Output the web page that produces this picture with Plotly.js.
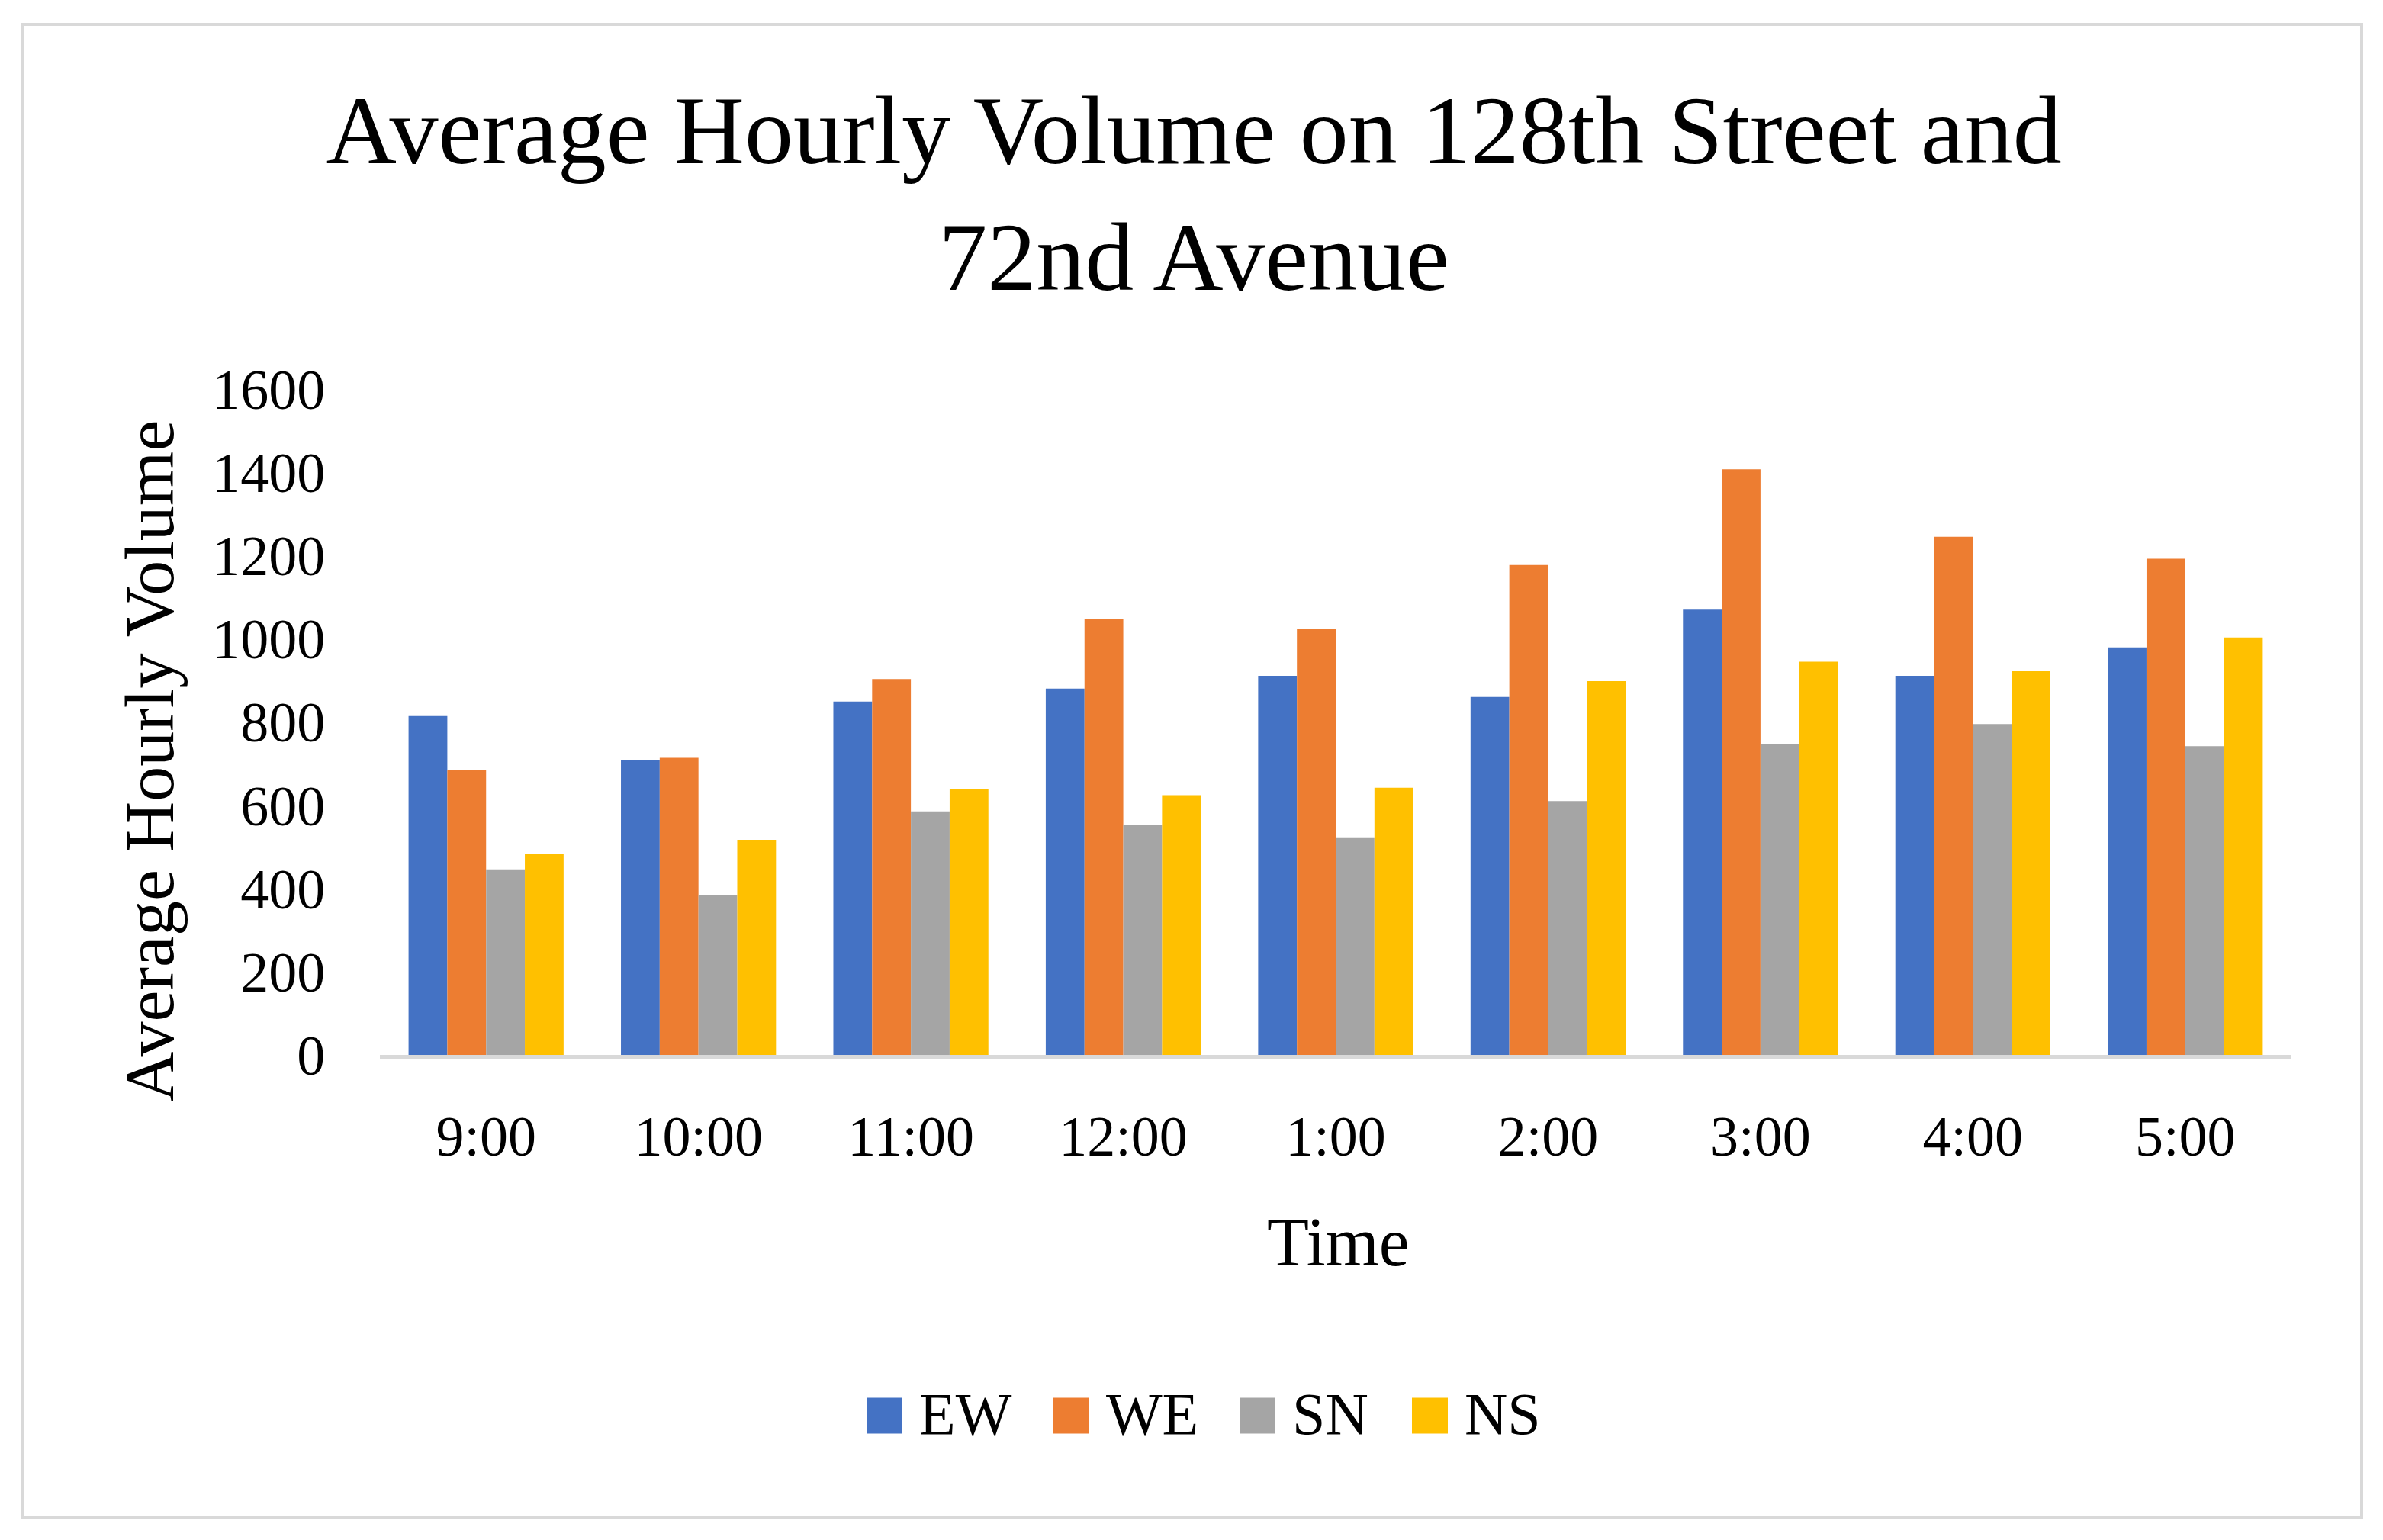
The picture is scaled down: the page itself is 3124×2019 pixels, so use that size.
<!DOCTYPE html>
<html>
<head>
<meta charset="utf-8">
<script src="https://cdn.plot.ly/plotly-3.0.1.min.js"></script>
<style>
  html, body { margin: 0; padding: 0; background: #ffffff; }
  #chart { width: 3124px; height: 2019px; }
</style>
</head>
<body>
<div id="chart"></div>
<script>
// ---- Data ----
const categories = ['9:00', '10:00', '11:00', '12:00', '1:00', '2:00', '3:00', '4:00', '5:00'];
const seriesNames = ['EW', 'WE', 'SN', 'NS'];
const ewValues = [814, 708, 849, 880, 911, 860, 1070, 911, 979];
const weValues = [684, 714, 903, 1048, 1023, 1177, 1407, 1245, 1192];
const snValues = [446, 384, 585, 552, 523, 610, 746, 795, 742];
const nsValues = [482, 517, 639, 624, 642, 898, 945, 922, 1003];
const yTickValues = [0, 200, 400, 600, 800, 1000, 1200, 1400, 1600];

// ---- Styling ----
const colors = ['#4472C4', '#ED7D31', '#A5A5A5', '#FFC000'];
const FONT = '"Liberation Serif", "DejaVu Serif", serif';
const W = 3124, H = 2019;
const L = 498, R = 3004, T = 510, B = 1383;
const px = x => (x - L) / (R - L);
const py = y => (B - y) / (B - T);

const allValues = [ewValues, weValues, snValues, nsValues];
const traces = allValues.map((vals, i) => ({
  type: 'bar',
  name: seriesNames[i],
  x: categories,
  y: vals,
  marker: { color: colors[i], line: { width: 0 } },
  showlegend: false,
  hoverinfo: 'x+y+name'
}));

// Manual legend (big square swatches like the original)
const legendSquareX = [1136, 1381, 1625, 1851];
const legendY = 1856, sq = 47;
const shapes = [{
  type: 'rect', xref: 'paper', yref: 'paper',
  x0: px(30), x1: px(3096), y0: py(1990), y1: py(32),
  line: { color: '#D9D9D9', width: 4 }, fillcolor: 'rgba(0,0,0,0)', layer: 'below'
}];
const annotations = [
  {
    text: 'Average Hourly Volume', xref: 'paper', yref: 'paper',
    x: px(196), y: py(998), textangle: -90, showarrow: false,
    xanchor: 'center', yanchor: 'middle',
    font: { family: FONT, size: 92, color: '#000000' }
  },
  {
    text: 'Time', xref: 'paper', yref: 'paper',
    x: px(1754), y: py(1628), showarrow: false,
    xanchor: 'center', yanchor: 'middle',
    font: { family: FONT, size: 90, color: '#000000' }
  }
];
seriesNames.forEach((name, i) => {
  const x0 = legendSquareX[i];
  shapes.push({
    type: 'rect', xref: 'paper', yref: 'paper',
    x0: px(x0), x1: px(x0 + sq), y0: py(legendY + sq / 2), y1: py(legendY - sq / 2),
    fillcolor: colors[i], line: { width: 0 }
  });
  annotations.push({
    text: name, xref: 'paper', yref: 'paper',
    x: px(x0 + sq + 20), y: py(legendY - 2), showarrow: false,
    xanchor: 'left', yanchor: 'middle',
    font: { family: FONT, size: 78, color: '#000000' }
  });
});

const layout = {
  width: W, height: H,
  paper_bgcolor: '#ffffff', plot_bgcolor: '#ffffff',
  margin: { l: L, r: W - R, t: T, b: H - B, pad: 0 },
  font: { family: FONT, color: '#000000' },
  title: {
    text: 'Average Hourly Volume on 128th Street and<br>72nd Avenue',
    xref: 'container', yref: 'container',
    x: 0.501, y: 1 - 214 / H, xanchor: 'center', yanchor: 'top',
    font: { family: FONT, size: 128, color: '#000000' }
  },
  barmode: 'group',
  bargap: 0.27,
  bargroupgap: 0,
  xaxis: {
    type: 'category',
    showline: true, linecolor: '#D9D9D9', linewidth: 5,
    showgrid: false, zeroline: false,
    ticks: 'outside', ticklen: 38, tickcolor: 'rgba(0,0,0,0)',
    tickfont: { family: FONT, size: 74, color: '#000000' }
  },
  yaxis: {
    range: [0, 1600],
    tickvals: yTickValues,
    ticktext: yTickValues.map(String),
    showline: false, showgrid: false, zeroline: false,
    ticks: 'outside', ticklen: 56, tickcolor: 'rgba(0,0,0,0)',
    tickfont: { family: FONT, size: 74, color: '#000000' }
  },
  shapes: shapes,
  annotations: annotations,
  showlegend: false
};

Plotly.newPlot('chart', traces, layout, { displayModeBar: false, staticPlot: true });
</script>
</body>
</html>
